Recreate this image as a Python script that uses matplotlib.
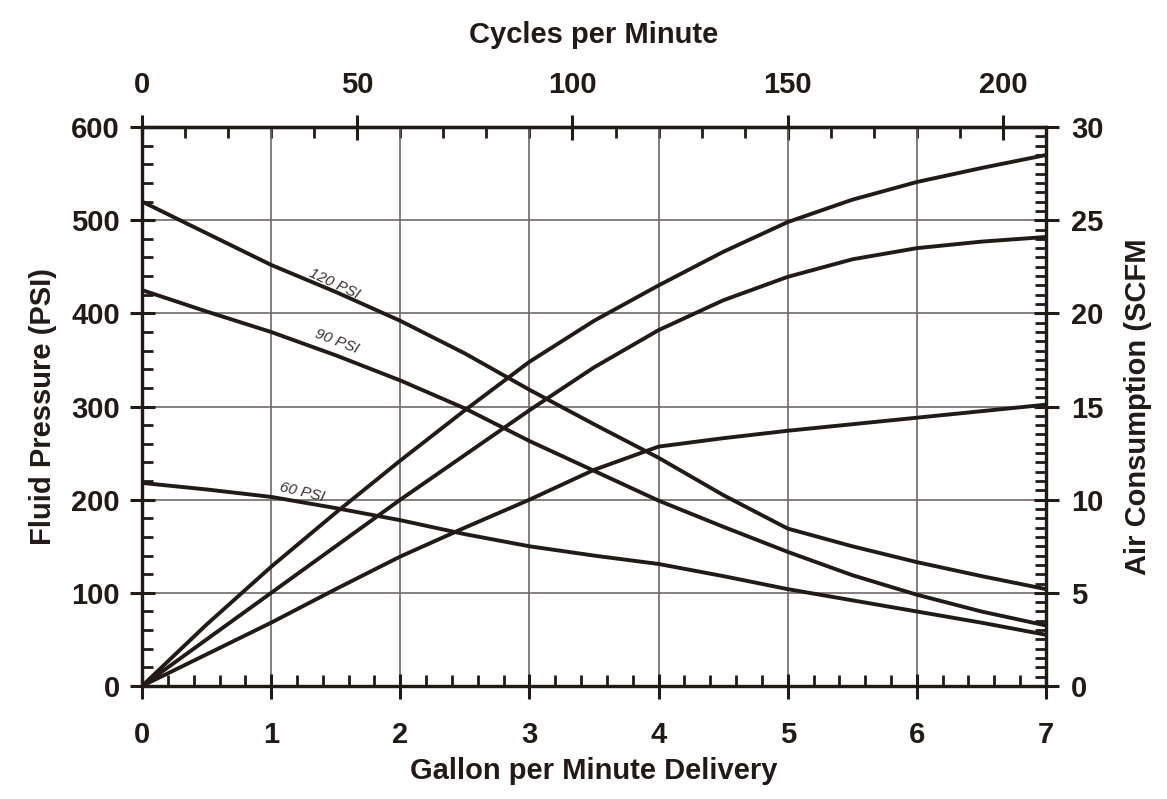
import numpy as np
import matplotlib
matplotlib.use("Agg")
import matplotlib.pyplot as plt
from matplotlib.ticker import MultipleLocator, FixedLocator

plt.rcParams['font.family'] = ['Liberation Sans', 'DejaVu Sans']

# Data
gpm = [0, 0.5, 1, 1.5, 2, 2.5, 3, 3.5, 4, 4.5, 5, 5.5, 6, 6.5, 7]

# Fluid pressure (PSI) at different air inlet pressures
psi_120 = [520, 486, 452, 423, 392, 357, 318, 281, 245, 205, 169, 150, 133, 118, 104]
psi_90 = [425, 402, 380, 355, 328, 298, 263, 231, 199, 171, 144, 119, 98, 80, 65]
psi_60 = [218, 211, 203, 191, 178, 163, 150, 140, 131, 118, 104, 92, 80, 68, 55]

# Air consumption (SCFM)
air_120 = [0, 3.3, 6.4, 9.3, 12.1, 14.8, 17.4, 19.6, 21.5, 23.3, 24.9, 26.1, 27.05, 27.8, 28.5]
air_90 = [0, 2.5, 5.0, 7.5, 10.0, 12.4, 14.8, 17.1, 19.1, 20.7, 21.96, 22.9, 23.5, 23.85, 24.1]
air_60 = [0, 1.7, 3.4, 5.2, 6.95, 8.5, 10.0, 11.6, 12.85, 13.3, 13.7, 14.05, 14.4, 14.75, 15.1]

cpm_major = [0, 50, 100, 150, 200]
cpm_minor = list(range(0, 211, 10))

curve_labels = ["120 PSI", "90 PSI", "60 PSI"]
label_pos = [(1.49, 432, -25), (1.51, 370, -21), (1.24, 208, -13)]

ink = "#231a17"
grid_col = "#6f6a68"
fs = 21

fig = plt.figure(figsize=(11.67, 7.99), dpi=100)
ax = fig.add_axes([0.1217, 0.1414, 0.7746, 0.6996])

ax.set_xlim(0, 7)
ax.set_ylim(0, 600)

# grid
ax.xaxis.set_major_locator(MultipleLocator(1))
ax.xaxis.set_minor_locator(MultipleLocator(0.2))
ax.yaxis.set_major_locator(MultipleLocator(100))
ax.yaxis.set_minor_locator(MultipleLocator(20))
ax.grid(True, which="major", color=grid_col, linewidth=1.2)
ax.set_axisbelow(True)

for s in ax.spines.values():
    s.set_linewidth(2.3)
    s.set_color(ink)

lw = 2.8
ax.plot(gpm, psi_120, color=ink, lw=lw, zorder=3)
ax.plot(gpm, psi_90, color=ink, lw=lw, zorder=3)
ax.plot(gpm, psi_60, color=ink, lw=lw, zorder=3)

for txt, (x, y, rot) in zip(curve_labels, label_pos):
    ax.text(x, y, txt, rotation=rot, fontsize=11, style="italic",
            color="#3a3230", ha="center", va="center", zorder=4)

ax.tick_params(which="major", direction="inout", length=18, width=2.2,
               color=ink, labelsize=fs, labelcolor=ink)
ax.tick_params(axis="x", which="major", pad=16)
ax.tick_params(axis="y", which="major", pad=7)
ax.tick_params(which="minor", direction="in", length=8, width=2.0, color=ink)
for lab in ax.get_xticklabels() + ax.get_yticklabels():
    lab.set_fontweight("bold")

ax.set_xlabel("Gallon per Minute Delivery", fontsize=fs, fontweight="bold",
              color=ink, labelpad=6)
ax.set_ylabel("Fluid Pressure (PSI)", fontsize=fs, fontweight="bold",
              color=ink, labelpad=10)

# right axis: air consumption
ax2 = ax.twinx()
ax2.set_ylim(0, 30)
ax2.plot(gpm, air_120, color=ink, lw=lw, zorder=3)
ax2.plot(gpm, air_90, color=ink, lw=lw, zorder=3)
ax2.plot(gpm, air_60, color=ink, lw=lw, zorder=3)
ax2.yaxis.set_major_locator(MultipleLocator(5))
ax2.yaxis.set_minor_locator(MultipleLocator(0.5))
ax2.tick_params(which="major", direction="inout", length=18, width=2.2,
                color=ink, labelsize=fs, labelcolor=ink, pad=9)
ax2.tick_params(which="minor", direction="in", length=8, width=2.0, color=ink)
for lab in ax2.get_yticklabels():
    lab.set_fontweight("bold")
for s in ax2.spines.values():
    s.set_linewidth(2.3)
    s.set_color(ink)
ax2.set_ylabel("Air Consumption (SCFM", fontsize=fs, fontweight="bold",
               color=ink, labelpad=15)

# top axis: cycles per minute (30 cycles per gallon)
top = ax.secondary_xaxis("top", functions=(lambda x: x * 30, lambda c: c / 30))
top.xaxis.set_major_locator(FixedLocator(cpm_major))
top.xaxis.set_minor_locator(FixedLocator(cpm_minor))
top.tick_params(which="major", direction="inout", length=18, width=2.2,
                color=ink, labelsize=fs, labelcolor=ink, pad=11)
top.tick_params(which="minor", direction="in", length=8, width=2.0, color=ink)
for lab in top.get_xticklabels():
    lab.set_fontweight("bold")
top.spines["top"].set_linewidth(2.3)
top.set_xlabel("Cycles per Minute", fontsize=fs, fontweight="bold",
               color=ink, labelpad=20)

fig.savefig("out.png", dpi=100, facecolor="white")
